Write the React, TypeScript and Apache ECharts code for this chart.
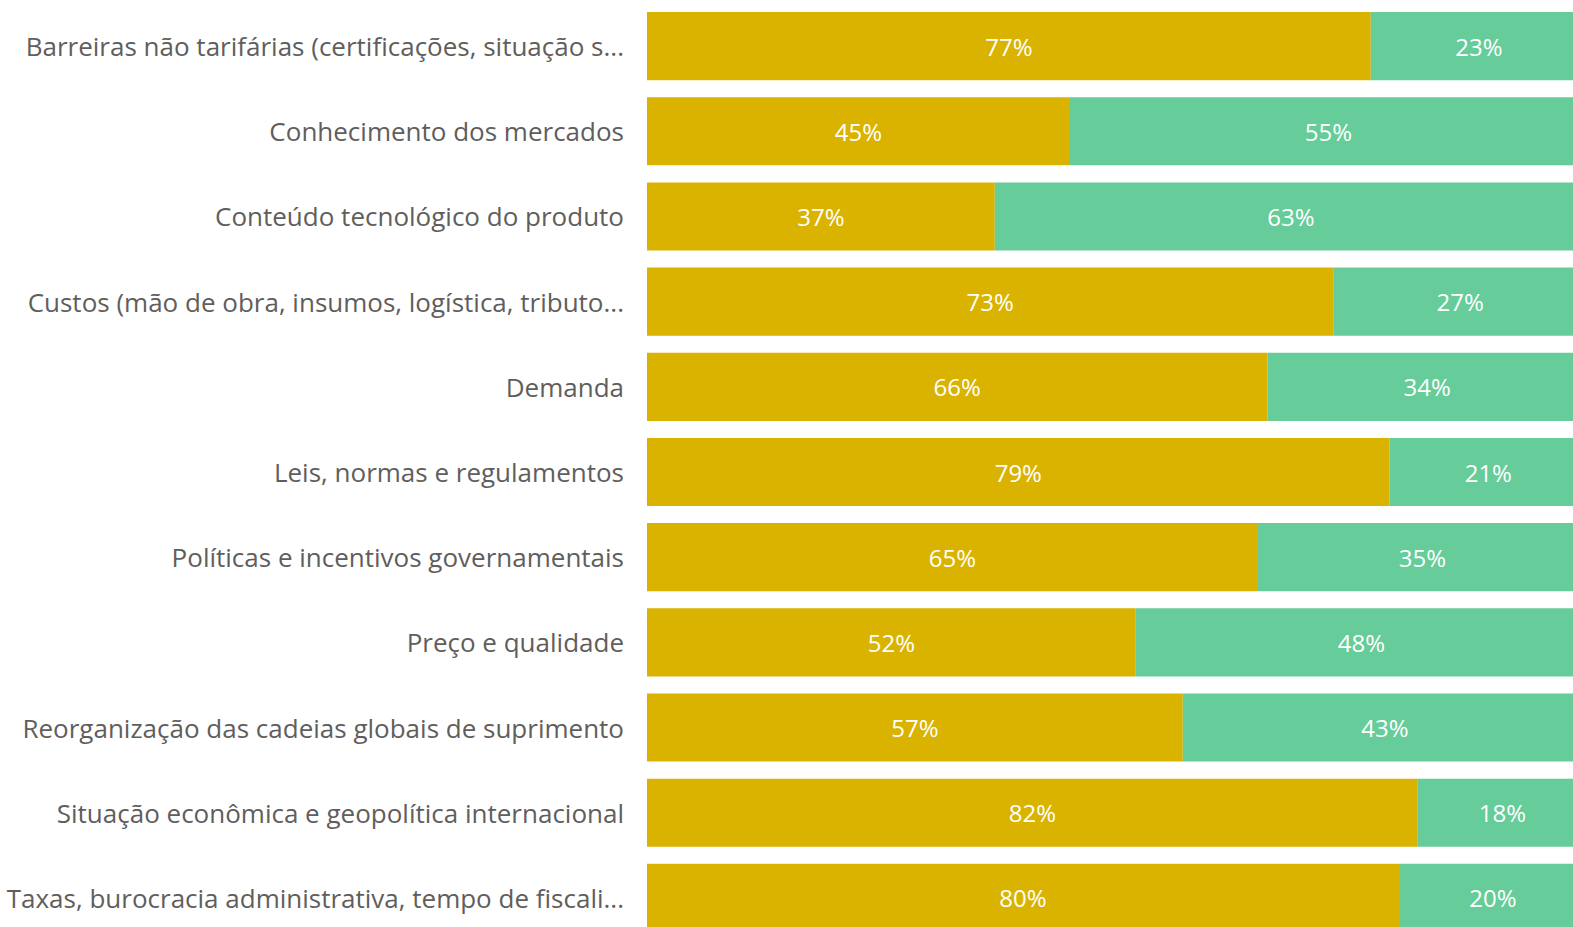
import React, { useEffect, useRef } from "react";
import * as echarts from "echarts";

const categories = [
  "Barreiras não tarifárias (certificações, situação s...",
  "Conhecimento dos mercados",
  "Conteúdo tecnológico do produto",
  "Custos (mão de obra, insumos, logística, tributo...",
  "Demanda",
  "Leis, normas e regulamentos",
  "Políticas e incentivos governamentais",
  "Preço e qualidade",
  "Reorganização das cadeias globais de suprimento",
  "Situação econômica e geopolítica internacional",
  "Taxas, burocracia administrativa, tempo de fiscali...",
];
const goldValues = [77, 45, 37, 73, 66, 79, 65, 52, 57, 82, 80];
const greenValues = [23, 55, 63, 27, 34, 21, 35, 48, 43, 18, 20];

export default function App() {
  const ref = useRef<HTMLDivElement>(null);
  useEffect(() => {
    if (!ref.current) return;
    const chart = echarts.init(ref.current, undefined, { renderer: "svg" });
    const labelCfg = {
      show: true,
      position: "inside",
      color: "#ffffff",
      fontSize: 24,
      fontFamily: "Open Sans, Noto Sans, sans-serif",
      formatter: (p: any) => p.value + "%",
    };
    chart.setOption({
      animation: false,
      backgroundColor: "#ffffff",
      grid: { left: 647, right: 3, top: 3.5, height: 937, containLabel: false },
      xAxis: {
        type: "value",
        min: 0,
        max: 100,
        show: false,
      },
      yAxis: {
        type: "category",
        data: categories,
        inverse: true,
        axisLine: { show: false },
        axisTick: { show: false },
        splitLine: { show: false },
        axisLabel: {
          color: "#605E5C",
          fontSize: 26,
          fontFamily: "Open Sans, Noto Sans, sans-serif",
          margin: 23,
        },
      },
      series: [
        {
          name: "A",
          type: "bar",
          stack: "total",
          data: goldValues,
          barCategoryGap: "20%",
          itemStyle: { color: "#D9B300" },
          label: labelCfg,
        },
        {
          name: "B",
          type: "bar",
          stack: "total",
          data: greenValues,
          barCategoryGap: "20%",
          itemStyle: { color: "#66CC99" },
          label: labelCfg,
        },
      ],
    });
    return () => chart.dispose();
  }, []);
  return (
    <div
      style={{ position: "absolute", left: 0, top: 0, width: 1573, height: 927, overflow: "hidden", background: "#fff" }}
    >
      <div ref={ref} style={{ width: 1590, height: 950 }} />
    </div>
  );
}
